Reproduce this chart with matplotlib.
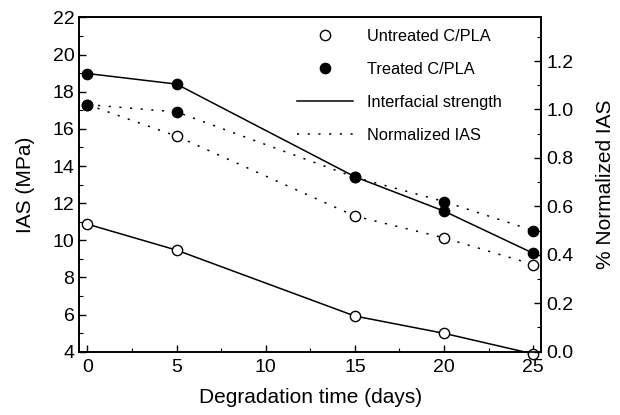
#!/usr/bin/env python3
# IAS of untreated / treated C/PLA vs degradation time, with normalized IAS on a twin axis
import matplotlib
matplotlib.use('Agg')
import matplotlib.pyplot as plt
from matplotlib.lines import Line2D
from matplotlib.ticker import MultipleLocator

plt.rcParams['font.family'] = ['Liberation Sans', 'DejaVu Sans']

days = [0, 5, 15, 20, 25]
ias_untreated = [10.87, 9.47, 5.92, 4.99, 3.88]
ias_treated = [18.98, 18.41, 13.42, 11.57, 9.30]
norm_untreated = [1.02, 0.89, 0.56, 0.47, 0.36]
norm_treated = [1.02, 0.99, 0.72, 0.62, 0.50]

dot = (0, (1.4, 5.6))
msize = 7.4

fig = plt.figure(figsize=(6.2, 4.15), dpi=100)
ax = fig.add_axes([0.128, 0.1525, 0.745, 0.8055])
ax2 = ax.twinx()

ax.plot(days, ias_untreated, '-', color='black', lw=1.1, marker='o', ms=msize,
        mfc='white', mec='black', mew=1.0, clip_on=False, zorder=3)
ax.plot(days, ias_treated, '-', color='black', lw=1.1, marker='o', ms=msize,
        mfc='black', mec='black', clip_on=False, zorder=3)

ax2.plot(days, norm_untreated, linestyle=dot, color='black', lw=1.1, marker='o', ms=msize,
         mfc='white', mec='black', mew=1.0, clip_on=False)
ax2.plot(days, norm_treated, linestyle=dot, color='black', lw=1.1, marker='o', ms=msize,
         mfc='black', mec='black', clip_on=False)

ax.set_xlim(-0.45, 25.45)
ax.set_ylim(4, 22)
ax2.set_ylim(0, 1.38)

ax.xaxis.set_major_locator(MultipleLocator(5))
ax.xaxis.set_minor_locator(MultipleLocator(2.5))
ax.yaxis.set_major_locator(MultipleLocator(2))
ax.yaxis.set_minor_locator(MultipleLocator(1))
ax2.yaxis.set_minor_locator(MultipleLocator(0.1))
ax2.set_yticks([0, 0.2, 0.4, 0.6, 0.8, 1.0, 1.2])
ax2.set_yticklabels(['0.0', '0.2', '0.4', '0.6', '0.8', '1.0', '1.2'])

ax.tick_params(axis='both', which='both', direction='in', labelsize=14, top=False)
ax.tick_params(which='major', length=5, width=1)
ax.tick_params(which='minor', length=3, width=0.8)
ax.tick_params(axis='x', pad=5)
ax2.tick_params(axis='y', which='both', direction='in', labelsize=14)
ax2.tick_params(which='major', length=5, width=1)
ax2.tick_params(which='minor', length=3, width=0.8)

for a in (ax, ax2):
    for s in a.spines.values():
        s.set_linewidth(1.2)

ax.set_xlabel('Degradation time (days)', fontsize=15, labelpad=9)
ax.set_ylabel('IAS (MPa)', fontsize=15, labelpad=13)
ax2.set_ylabel('% Normalized IAS', fontsize=15, labelpad=16)

handles = [
    Line2D([], [], ls='none', marker='o', ms=msize, mfc='white', mec='black'),
    Line2D([], [], ls='none', marker='o', ms=msize, mfc='black', mec='black'),
    Line2D([], [], ls='-', color='black', lw=1.1),
    Line2D([], [], ls=dot, color='black', lw=1.1),
]
labels = ['Untreated C/PLA', 'Treated C/PLA', 'Interfacial strength', 'Normalized IAS']
fig.legend(handles, labels, loc='upper left', bbox_to_anchor=(0.479, 0.93),
           frameon=False, fontsize=11.8, handlelength=3.4, handletextpad=0.85,
           labelspacing=1.1, borderpad=0, borderaxespad=0)

fig.savefig('out.png', dpi=100)
